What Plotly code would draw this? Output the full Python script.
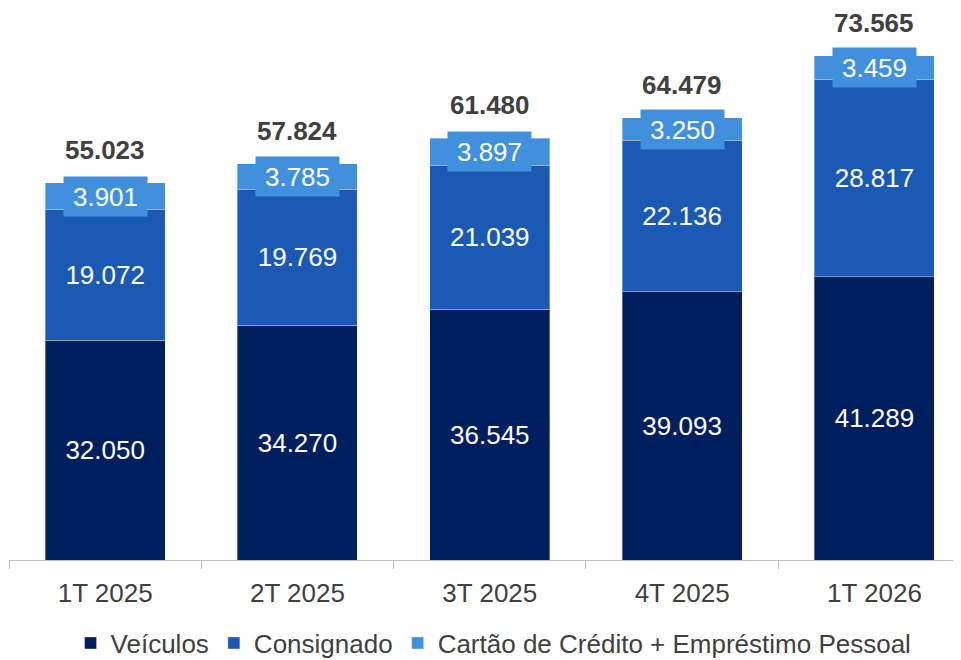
import plotly.graph_objects as go

categories = ["1T 2025", "2T 2025", "3T 2025", "4T 2025", "1T 2026"]
veiculos = [32050, 34270, 36545, 39093, 41289]
consignado = [19072, 19769, 21039, 22136, 28817]
cartao = [3901, 3785, 3897, 3250, 3459]
totais = [55023, 57824, 61480, 64479, 73565]

series_names = ["Veículos", "Consignado", "Cartão de Crédito + Empréstimo Pessoal"]
colors = ["#011E5E", "#1A5AB4", "#4190DE"]

FONT = "Liberation Sans, Arial, sans-serif"
TXT = "#404040"
FS = 26


def fmt(v):
    return f"{v:,}".replace(",", ".")


fig = go.Figure()
line = dict(color="rgba(255,255,255,0.35)", width=1)
fig.add_trace(go.Bar(
    x=categories, y=veiculos, name=series_names[0],
    marker=dict(color=colors[0], line=line),
    text=[fmt(v) for v in veiculos], textposition="inside", insidetextanchor="middle",
    textangle=0, insidetextfont=dict(color="white", size=FS, family=FONT),
))
fig.add_trace(go.Bar(
    x=categories, y=consignado, name=series_names[1],
    marker=dict(color=colors[1], line=line),
    text=[fmt(v) for v in consignado], textposition="inside", insidetextanchor="middle",
    textangle=0, insidetextfont=dict(color="white", size=FS, family=FONT),
))
fig.add_trace(go.Bar(
    x=categories, y=cartao, name=series_names[2],
    marker=dict(color=colors[2], line=line),
    textposition="none",
))

annotations = []
for i, c in enumerate(categories):
    mid = veiculos[i] + consignado[i] + cartao[i] / 2
    annotations.append(dict(
        x=c, y=mid, xref="x", yref="y", text=fmt(cartao[i]), showarrow=False,
        font=dict(color="white", size=FS, family=FONT),
        bgcolor=colors[2], width=83, height=39, borderpad=0, align="center",
        valign="middle",
    ))
    top = veiculos[i] + consignado[i] + cartao[i]
    annotations.append(dict(
        x=c, y=top, xref="x", yref="y", text="<b>" + fmt(totais[i]) + "</b>",
        showarrow=False, yanchor="middle", yshift=33,
        font=dict(color=TXT, size=FS, family=FONT),
    ))

fig.update_layout(
    width=953, height=652,
    barmode="stack", bargap=0.376,
    margin=dict(l=1, r=0, t=2, b=100),
    plot_bgcolor="white", paper_bgcolor="white",
    font=dict(family=FONT, size=FS, color=TXT),
    annotations=annotations,
    showlegend=True,
    legend=dict(
        orientation="h", traceorder="normal",
        xref="container", yref="container",
        x=0.5095, xanchor="center", y=0.026, yanchor="middle",
        font=dict(size=FS, color=TXT, family=FONT),
        bgcolor="rgba(0,0,0,0)",
    ),
    xaxis=dict(
        type="category", range=[-0.5, 4.45], tickson="boundaries",
        ticks="outside", ticklen=8, tickcolor="#BFBFBF", tickwidth=1,
        showline=True, linecolor="#BFBFBF", linewidth=1,
        showgrid=False, zeroline=False, ticklabelstandoff=10,
        tickfont=dict(size=FS, color=TXT, family=FONT),
    ),
    yaxis=dict(visible=False, range=[0, 80210], showgrid=False, zeroline=False),
)

fig.write_html("out.html")
